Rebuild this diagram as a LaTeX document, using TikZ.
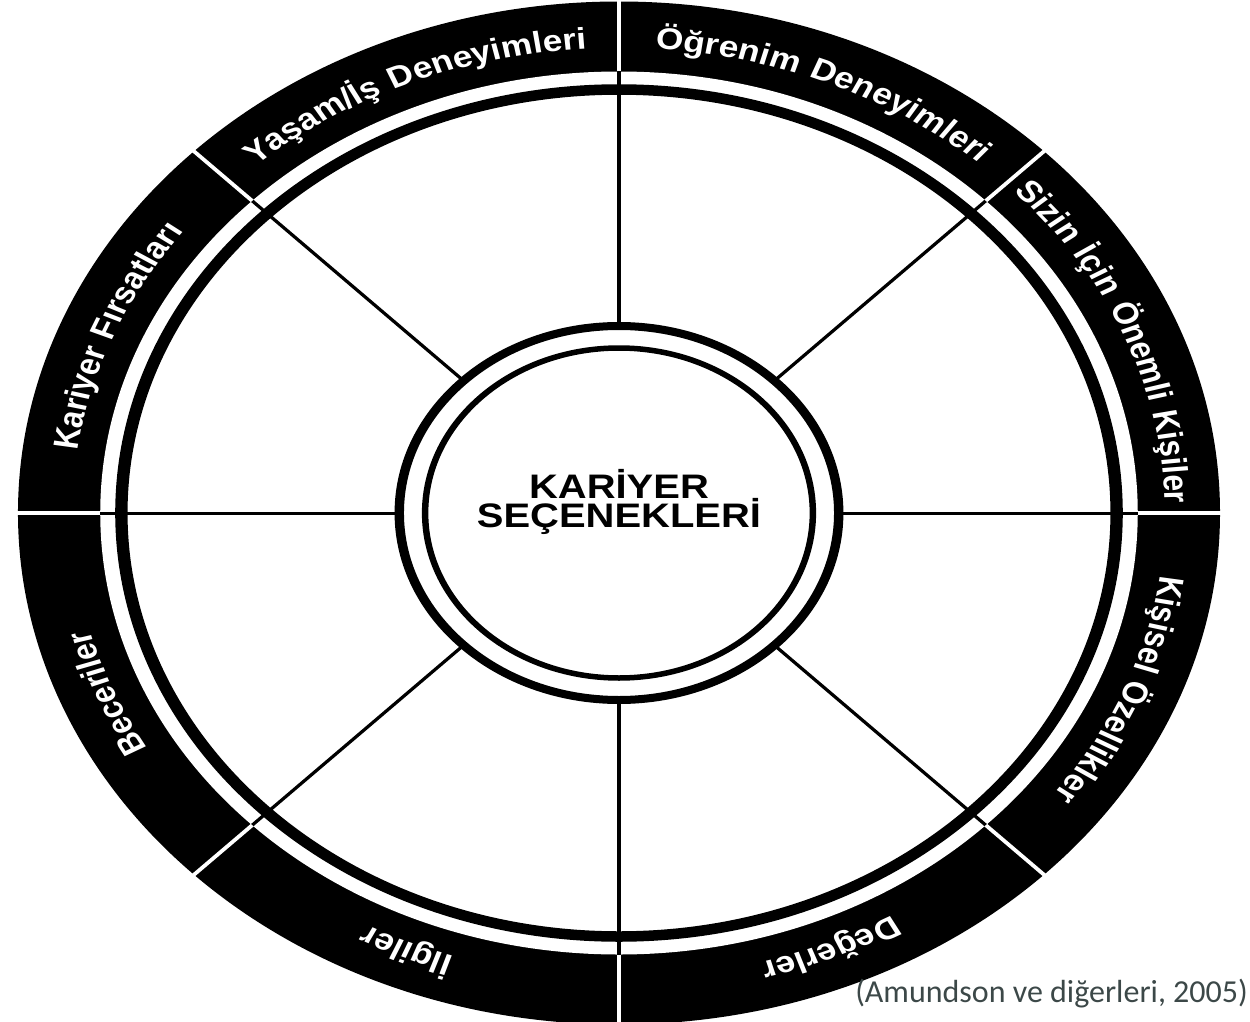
\documentclass[tikz,border=0pt]{standalone}
\usepackage{fontspec}
\setmainfont{Liberation Sans}
\newfontfamily\citefam{Carlito}
\newfontfamily\ringfam[LetterSpace=6]{Liberation Sans}
\usetikzlibrary{decorations.text}
\definecolor{citegray}{RGB}{60,72,72}
\newcommand\ringfont{\ringfam\bfseries\fontsize{30}{36}\selectfont}
\newcommand\RingLabel[2]{%
  \path[ringtext, decoration={text={|\ringfont|#2}}]
    ({#1+40}:465) arc[start angle={#1+40}, end angle={#1-40}, radius=465];}
\tikzset{
  ringtext/.style={decorate, decoration={text along path, text align=center, text color=white}},
  spoke/.style={line width=3pt, black},
  divider/.style={line width=3.5pt, white},
  hubtext/.style={font=\bfseries\fontsize{34}{29}\selectfont, anchor=base, inner sep=0pt},
}
\begin{document}
\begin{tikzpicture}[x=1pt,y=1pt]
\useasboundingbox (-619,-508) rectangle (631,513);
\begin{scope}[transform canvas={xscale=1.175}]
  % outer black band
  \fill[black] (0,0) circle[radius=511.5];
  \fill[white] (0,0) circle[radius=441.5];
  % ring
  \draw[line width=10.5pt] (0,0) circle[radius=423.5];
  % spokes
  \foreach \a in {0,45,...,315}
    \draw[spoke] (\a:185) -- (\a:441.5);
  % white dividers in the band
  \foreach \a in {0,45,...,315}
    \draw[divider] (\a:441.5) -- (\a:514);
  % hub
  \draw[line width=8pt, fill=white] (0,0) circle[radius=187];
  \draw[line width=5.5pt] (0,0) circle[radius=165];
  \node[hubtext] (kar) at (0,15) {KARİYER};
  \node[hubtext] (sec) at (0,-14) {SEÇENEKLERİ};
  % ring labels
  \RingLabel{157.5}{Kariyer Fırsatları}
  \RingLabel{112.5}{Yaşam/İş Deneyimleri}
  \RingLabel{67.5}{Öğrenim Deneyimleri}
  \RingLabel{22.5}{Sizin İçin Önemli Kişiler}
  \RingLabel{-22.5}{Kişisel Özellikler}
  \RingLabel{-67.5}{Değerler}
  \RingLabel{-112.5}{İlgiler}
  \RingLabel{-157.5}{Beceriler}
\end{scope}
\node[anchor=base east, inner sep=0pt, text=citegray, font=\citefam\fontsize{32}{38}\selectfont] (cite) at (629,-489.5) {(Amundson ve diğerleri, 2005)};
\end{tikzpicture}
\end{document}
